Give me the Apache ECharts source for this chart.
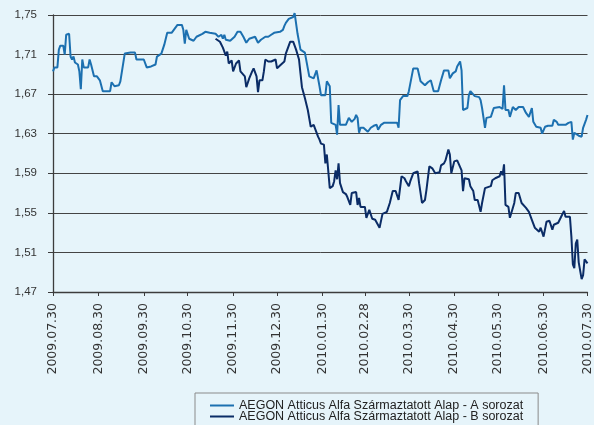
<!DOCTYPE html>
<html>
<head>
<meta charset="utf-8">
<script src="https://cdn.jsdelivr.net/npm/echarts@6/dist/echarts.min.js"></script>
<style>
html,body{margin:0;padding:0;background:#e6f4fa;}
#chart{width:594px;height:425px;}
</style>
</head>
<body>
<div id="chart"></div>
<script>
const seriesNames = [
  'AEGON Atticus Alfa Származtatott Alap - A sorozat',
  'AEGON Atticus Alfa Származtatott Alap - B sorozat'
];
const xTickLabels = ['2009.07.30','2009.08.30','2009.09.30','2009.10.30','2009.11.30','2009.12.30',
  '2010.01.30','2010.02.28','2010.03.30','2010.04.30','2010.05.30','2010.06.30','2010.07.30'];
const yTicks = [1.47,1.51,1.55,1.59,1.63,1.67,1.71,1.75];

const aDates = ['2009-07-30','2009-07-31','2009-08-02','2009-08-03','2009-08-04','2009-08-06','2009-08-07','2009-08-08','2009-08-10','2009-08-11',
'2009-08-12','2009-08-13','2009-08-14','2009-08-16','2009-08-17','2009-08-18','2009-08-19','2009-08-20','2009-08-23','2009-08-24',
'2009-08-25','2009-08-27','2009-08-29','2009-08-31','2009-09-02','2009-09-07','2009-09-08','2009-09-09','2009-09-10','2009-09-11',
'2009-09-13','2009-09-14','2009-09-17','2009-09-21','2009-09-24','2009-09-25','2009-09-30','2009-10-02','2009-10-05','2009-10-08',
'2009-10-09','2009-10-10','2009-10-12','2009-10-14','2009-10-16','2009-10-19','2009-10-21','2009-10-23','2009-10-26','2009-10-27',
'2009-10-28','2009-10-29','2009-10-31','2009-11-03','2009-11-05','2009-11-09','2009-11-11','2009-11-14','2009-11-18','2009-11-20',
'2009-11-22','2009-11-23','2009-11-24','2009-11-25','2009-11-28','2009-12-01','2009-12-03','2009-12-05','2009-12-07','2009-12-09',
'2009-12-11','2009-12-15','2009-12-16','2009-12-17','2009-12-19','2009-12-22','2009-12-24','2009-12-26','2009-12-28','2010-01-01',
'2010-01-03','2010-01-04','2010-01-05','2010-01-07','2010-01-08','2010-01-10','2010-01-11','2010-01-13','2010-01-15','2010-01-18',
'2010-01-21','2010-01-24','2010-01-26','2010-01-28','2010-01-29','2010-02-01','2010-02-02','2010-02-04','2010-02-05','2010-02-08',
'2010-02-09','2010-02-10','2010-02-11','2010-02-12','2010-02-15','2010-02-17','2010-02-19','2010-02-21','2010-02-22','2010-02-23',
'2010-02-24','2010-02-25','2010-02-27','2010-03-02','2010-03-04','2010-03-06','2010-03-08','2010-03-09','2010-03-11','2010-03-13',
'2010-03-17','2010-03-22','2010-03-23','2010-03-24','2010-03-26','2010-03-29','2010-03-30','2010-04-02','2010-04-05','2010-04-07',
'2010-04-10','2010-04-12','2010-04-14','2010-04-16','2010-04-19','2010-04-21','2010-04-23','2010-04-26','2010-04-27','2010-04-29',
'2010-05-01','2010-05-02','2010-05-04','2010-05-05','2010-05-06','2010-05-09','2010-05-10','2010-05-11','2010-05-14','2010-05-17',
'2010-05-18','2010-05-19','2010-05-20','2010-05-21','2010-05-22','2010-05-25','2010-05-26','2010-05-27','2010-05-31','2010-06-02',
'2010-06-03','2010-06-04','2010-06-06','2010-06-07','2010-06-09','2010-06-11','2010-06-13','2010-06-16','2010-06-18','2010-06-20',
'2010-06-22','2010-06-23','2010-06-25','2010-06-28','2010-06-29','2010-07-01','2010-07-03','2010-07-06','2010-07-07','2010-07-09',
'2010-07-10','2010-07-15','2010-07-17','2010-07-19','2010-07-20','2010-07-21','2010-07-24','2010-07-26','2010-07-27','2010-07-29',
'2010-07-30'];
const aValues = [1.693,1.697,1.697,1.715,1.719,1.719,1.710,1.730,1.731,1.708,
1.705,1.708,1.702,1.700,1.693,1.675,1.705,1.697,1.697,1.705,
1.700,1.688,1.688,1.684,1.673,1.673,1.682,1.683,1.678,1.679,
1.679,1.683,1.711,1.712,1.712,1.705,1.705,1.697,1.698,1.700,
1.708,1.710,1.711,1.720,1.732,1.732,1.736,1.740,1.740,1.735,
1.721,1.735,1.726,1.724,1.728,1.731,1.733,1.732,1.731,1.728,
1.730,1.726,1.730,1.725,1.724,1.728,1.733,1.733,1.728,1.722,
1.726,1.728,1.728,1.722,1.725,1.728,1.728,1.730,1.732,1.733,
1.735,1.739,1.742,1.746,1.748,1.748,1.752,1.731,1.715,1.712,
1.688,1.686,1.694,1.678,1.669,1.669,1.683,1.678,1.641,1.639,
1.629,1.659,1.639,1.641,1.639,1.646,1.642,1.645,1.649,1.646,
1.631,1.636,1.636,1.632,1.636,1.638,1.639,1.634,1.639,1.641,
1.641,1.641,1.636,1.664,1.668,1.668,1.673,1.696,1.696,1.683,
1.679,1.682,1.684,1.673,1.673,1.684,1.694,1.694,1.686,1.691,
1.693,1.698,1.703,1.694,1.654,1.656,1.669,1.673,1.668,1.667,
1.664,1.656,1.646,1.636,1.646,1.647,1.647,1.656,1.657,1.655,
1.679,1.654,1.654,1.647,1.657,1.654,1.657,1.657,1.651,1.647,
1.656,1.642,1.637,1.636,1.630,1.637,1.638,1.638,1.644,1.642,
1.639,1.639,1.641,1.642,1.624,1.631,1.628,1.627,1.636,1.644,
1.649];

const bDates = ['2009-11-18','2009-11-21','2009-11-22','2009-11-23','2009-11-24','2009-11-25','2009-11-26','2009-11-27','2009-11-29','2009-11-30',
'2009-12-02','2009-12-04','2009-12-05','2009-12-06','2009-12-08','2009-12-09','2009-12-10','2009-12-11','2009-12-13','2009-12-14',
'2009-12-16','2009-12-17','2009-12-18','2009-12-20','2009-12-21','2009-12-22','2009-12-24','2009-12-26','2009-12-27','2009-12-29',
'2009-12-30','2010-01-01','2010-01-04','2010-01-05','2010-01-07','2010-01-08','2010-01-10','2010-01-12','2010-01-14','2010-01-15',
'2010-01-16','2010-01-18','2010-01-20','2010-01-22','2010-01-24','2010-01-25','2010-01-27','2010-01-28','2010-01-29','2010-01-31',
'2010-02-01','2010-02-02','2010-02-04','2010-02-06','2010-02-07','2010-02-08','2010-02-09','2010-02-10','2010-02-11','2010-02-13',
'2010-02-15','2010-02-16','2010-02-18','2010-02-19','2010-02-22','2010-02-23','2010-02-24','2010-02-25','2010-02-28','2010-03-01',
'2010-03-03','2010-03-05','2010-03-07','2010-03-08','2010-03-10','2010-03-12','2010-03-13','2010-03-15','2010-03-17','2010-03-19',
'2010-03-21','2010-03-23','2010-03-25','2010-03-27','2010-03-28','2010-03-30','2010-03-31','2010-04-02','2010-04-03','2010-04-05',
'2010-04-06','2010-04-08','2010-04-10','2010-04-11','2010-04-13','2010-04-15','2010-04-17','2010-04-20','2010-04-21','2010-04-23',
'2010-04-24','2010-04-26','2010-04-27','2010-04-28','2010-04-30','2010-05-02','2010-05-05','2010-05-06','2010-05-07','2010-05-10',
'2010-05-11','2010-05-13','2010-05-14','2010-05-16','2010-05-18','2010-05-19','2010-05-21','2010-05-25','2010-05-26','2010-05-28',
'2010-05-31','2010-06-01','2010-06-02','2010-06-03','2010-06-04','2010-06-06','2010-06-07','2010-06-09','2010-06-10','2010-06-11',
'2010-06-13','2010-06-15','2010-06-18','2010-06-20','2010-06-22','2010-06-24','2010-06-27','2010-06-28','2010-06-30','2010-07-02',
'2010-07-04','2010-07-06','2010-07-07','2010-07-10','2010-07-12','2010-07-14','2010-07-15','2010-07-18','2010-07-19','2010-07-20',
'2010-07-21','2010-07-22','2010-07-23','2010-07-24','2010-07-25','2010-07-26','2010-07-27','2010-07-28','2010-07-30'];
const bValues = [1.726,1.723,1.723,1.717,1.718,1.709,1.713,1.701,1.704,1.693,
1.701,1.704,1.693,1.691,1.688,1.677,1.677,1.686,1.693,1.696,
1.688,1.672,1.684,1.684,1.693,1.705,1.703,1.703,1.701,1.705,
1.696,1.699,1.703,1.711,1.719,1.723,1.723,1.715,1.705,1.691,
1.677,1.666,1.654,1.637,1.639,1.641,1.627,1.624,1.620,1.619,
1.600,1.609,1.575,1.577,1.582,1.593,1.584,1.600,1.580,1.571,
1.569,1.566,1.558,1.570,1.571,1.558,1.565,1.556,1.556,1.545,
1.553,1.544,1.543,1.541,1.535,1.549,1.550,1.551,1.560,1.572,
1.572,1.563,1.587,1.585,1.582,1.577,1.582,1.590,1.592,1.592,
1.580,1.560,1.563,1.573,1.597,1.595,1.590,1.591,1.598,1.600,
1.603,1.614,1.609,1.590,1.602,1.603,1.593,1.572,1.585,1.584,
1.577,1.572,1.563,1.563,1.551,1.560,1.575,1.577,1.583,1.585,
1.587,1.592,1.588,1.599,1.558,1.556,1.545,1.555,1.560,1.570,
1.570,1.560,1.555,1.551,1.543,1.535,1.531,1.535,1.526,1.541,
1.542,1.533,1.538,1.540,1.546,1.552,1.546,1.546,1.526,1.498,
1.494,1.519,1.523,1.500,1.499,1.483,1.487,1.503,1.499];

function ts(s) {
  const p = s.split(/[-.]/).map(Number);
  return Date.UTC(p[0], p[1] - 1, p[2]);
}
const xTickValues = xTickLabels.map(ts);
const labelByTs = {};
xTickLabels.forEach(function (l) { labelByTs[ts(l)] = l; });

const colors = ['#1c70b0', '#0b2c66'];
const chart = echarts.init(document.getElementById('chart'), null, {renderer: 'canvas'});
const axisColor = '#3c3c3c';
chart.setOption({
  backgroundColor: '#e6f4fa',
  animation: false,
  color: colors,
  grid: {left: 53, right: 1, top: 15, bottom: 133, containLabel: false},
  xAxis: {
    type: 'value',
    min: ts('2009-07-30'),
    max: ts('2010-07-30'),
    axisLine: {lineStyle: {color: axisColor, width: 1.3}},
    axisTick: {show: true, length: 4, customValues: xTickValues, lineStyle: {color: axisColor}},
    axisLabel: {
      customValues: xTickValues,
      rotate: 90,
      margin: 11,
      fontFamily: 'DejaVu Sans',
      fontSize: 12.5,
      color: '#333',
      hideOverlap: false,
      formatter: function (v) { return labelByTs[v] || ''; }
    },
    splitLine: {show: false}
  },
  yAxis: {
    type: 'value',
    min: 1.47,
    max: 1.75,
    interval: 0.04,
    axisLine: {show: true, lineStyle: {color: axisColor, width: 1.3}},
    axisTick: {show: true, length: 5, customValues: yTicks, lineStyle: {color: axisColor}},
    axisLabel: {
      customValues: yTicks,
      margin: 16,
      fontFamily: 'Liberation Sans',
      fontSize: 11.5,
      color: '#333',
      formatter: function (v) { return v.toFixed(2).replace('.', ','); }
    },
    splitLine: {show: true, lineStyle: {color: '#444', width: 1}}
  },
  legend: {
    orient: 'vertical',
    left: 195,
    top: 393,
    width: 380,
    height: 60,
    padding: [6, 15, 14, 15],
    itemGap: -2,
    itemWidth: 24,
    itemHeight: 2,
    icon: 'rect',
    borderColor: '#8a8a8a',
    borderWidth: 1,
    backgroundColor: '#e6f4fa',
    textStyle: {fontFamily: 'Liberation Sans', fontSize: 12.5, color: '#222', lineHeight: 8},
    data: seriesNames
  },
  series: [
    {
      name: seriesNames[0],
      type: 'line',
      showSymbol: false,
      clip: false,
      lineStyle: {width: 2, color: colors[0]},
      data: aDates.map(function (d, i) { return [ts(d), aValues[i]]; })
    },
    {
      name: seriesNames[1],
      type: 'line',
      showSymbol: false,
      clip: false,
      lineStyle: {width: 2, color: colors[1]},
      data: bDates.map(function (d, i) { return [ts(d), bValues[i]]; })
    }
  ]
});
</script>
</body>
</html>
